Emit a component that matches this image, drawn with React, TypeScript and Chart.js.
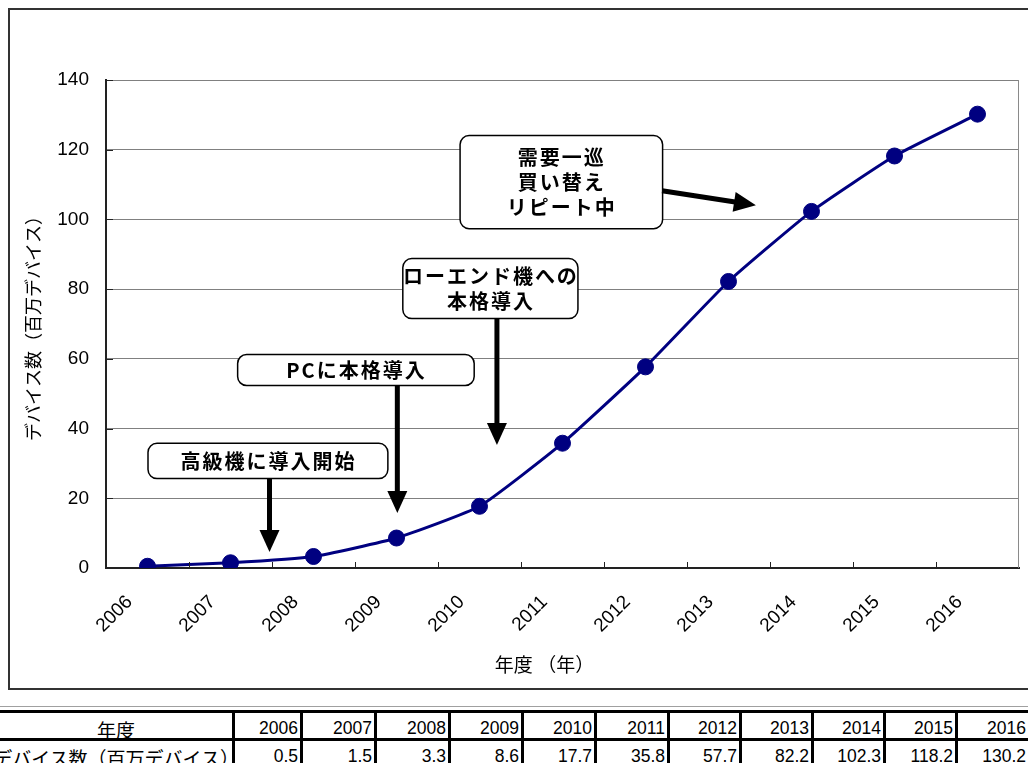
import React, { useEffect, useRef } from 'react';
import { Chart, registerables } from 'chart.js';

Chart.register(...registerables);

// 年度ごとのデバイス数（百万デバイス）
const years = ['2006', '2007', '2008', '2009', '2010', '2011', '2012', '2013', '2014', '2015', '2016'];
const devices = [0.5, 1.5, 3.3, 8.6, 17.7, 35.8, 57.7, 82.2, 102.3, 118.2, 130.2];
const yMin = 0;
const yMax = 140;
const yStep = 20;

const xTitle = '年度 （年）';
const yTitle = 'デバイス数（百万デバイス）';
const tableHeadLabel = '年度';
const tableRowLabel = 'デバイス数（百万デバイス）';

// 吹き出し: 文字列、枠 [x始, x終, y上, y下]、矢印 [x1, y1, x2, y2]（いずれも軸の単位）
const calloutLines = [
  ['高級機に導入開始'],
  ['PCに本格導入'],
  ['ローエンド機への', '本格導入'],
  ['需要一巡', '買い替え', 'リピート中'],
];
const calloutBoxes = [
  [0.0, 2.89, 35.9, 25.8],
  [1.08, 3.93, 61.4, 52.5],
  [3.07, 5.18, 88.9, 71.7],
  [3.76, 6.2, 124.2, 97.5],
];
const calloutArrows = [
  [1.47, 25.8, 1.47, 4.6],
  [3.01, 52.5, 3.01, 15.8],
  [4.21, 71.7, 4.21, 35.3],
  [6.2, 108.2, 7.33, 104.1],
];

// 表の列の右端（px）
const colEdges = [235, 303, 377, 451, 524, 597, 670, 742, 814, 886, 958, 1031];

const JP = '"Noto Sans CJK JP", sans-serif';
const NUM = '"Liberation Sans", "Noto Sans CJK JP", sans-serif';

function drawArrow(ctx: CanvasRenderingContext2D, x1: number, y1: number, x2: number, y2: number) {
  const ang = Math.atan2(y2 - y1, x2 - x1);
  const head = 22;
  const half = 10;
  const c = Math.cos(ang);
  const s = Math.sin(ang);
  const bx = x2 - head * c;
  const by = y2 - head * s;
  ctx.lineWidth = 5;
  ctx.beginPath();
  ctx.moveTo(x1, y1);
  ctx.lineTo(bx + c, by + s);
  ctx.stroke();
  ctx.beginPath();
  ctx.moveTo(x2, y2);
  ctx.lineTo(bx + half * s, by - half * c);
  ctx.lineTo(bx - half * s, by + half * c);
  ctx.closePath();
  ctx.fill();
}

const overlayPlugin = {
  id: 'overlay',
  afterDraw(chart: any) {
    const { ctx, chartArea } = chart;
    const x = chart.scales.x;
    const y = chart.scales.y;
    ctx.save();

    // plot frame on the right
    ctx.strokeStyle = '#8a8a8a';
    ctx.lineWidth = 1;
    ctx.beginPath();
    ctx.moveTo(chartArea.right - 0.5, chartArea.top);
    ctx.lineTo(chartArea.right - 0.5, chartArea.bottom);
    ctx.stroke();

    // inner tick marks
    ctx.strokeStyle = '#222';
    ctx.lineWidth = 1;
    for (let i = 0; i < years.length - 1; i++) {
      const px = Math.round(x.getPixelForValue(i + 0.5)) + 0.5;
      ctx.beginPath();
      ctx.moveTo(px, chartArea.bottom);
      ctx.lineTo(px, chartArea.bottom - 6);
      ctx.stroke();
    }
    for (let v = yMin; v <= yMax; v += yStep) {
      const py = Math.round(y.getPixelForValue(v)) + 0.5;
      ctx.beginPath();
      ctx.moveTo(chartArea.left, py);
      ctx.lineTo(chartArea.left + 7, py);
      ctx.stroke();
    }

    // x axis title
    ctx.fillStyle = '#000';
    ctx.font = `19px ${JP}`;
    ctx.textAlign = 'center';
    ctx.textBaseline = 'middle';
    ctx.fillText(xTitle, (chartArea.left + chartArea.right) / 2 - 18, 665);

    // callout boxes
    calloutBoxes.forEach((b, k) => {
      const x0 = x.getPixelForValue(b[0]);
      const x1 = x.getPixelForValue(b[1]);
      const y0 = y.getPixelForValue(b[2]);
      const y1 = y.getPixelForValue(b[3]);
      ctx.beginPath();
      ctx.roundRect(x0 + 0.5, y0 + 0.5, x1 - x0, y1 - y0, 9);
      ctx.fillStyle = '#fff';
      ctx.fill();
      ctx.lineWidth = 1.5;
      ctx.strokeStyle = '#000';
      ctx.stroke();

      const lines = calloutLines[k];
      ctx.fillStyle = '#000';
      ctx.font = `bold 20px ${JP}`;
      (ctx as any).letterSpacing = '2px';
      ctx.textAlign = 'center';
      ctx.textBaseline = 'middle';
      const cx = (x0 + x1) / 2 + 1;
      const cy = (y0 + y1) / 2;
      const lh = 25;
      lines.forEach((t, j) => {
        ctx.fillText(t, cx, cy + (j - (lines.length - 1) / 2) * lh + 1);
      });
      (ctx as any).letterSpacing = '0px';
    });

    // arrows
    ctx.fillStyle = '#000';
    ctx.strokeStyle = '#000';
    calloutArrows.forEach((a) => {
      drawArrow(
        ctx,
        x.getPixelForValue(a[0]),
        y.getPixelForValue(a[1]),
        x.getPixelForValue(a[2]),
        y.getPixelForValue(a[3])
      );
    });

    ctx.restore();
  },
};

function DeviceChart() {
  const ref = useRef<HTMLCanvasElement>(null);
  useEffect(() => {
    if (!ref.current) return;
    const chart = new Chart(ref.current, {
      type: 'line',
      data: {
        labels: years,
        datasets: [
          {
            data: devices,
            borderColor: '#000080',
            backgroundColor: '#000080',
            borderWidth: 3,
            pointRadius: 8,
            pointBorderWidth: 1,
            pointBackgroundColor: '#000080',
            pointBorderColor: '#000080',
            tension: 0.15,
          },
        ],
      },
      options: {
        responsive: false,
        animation: false,
        devicePixelRatio: 1,
        layout: { padding: { left: 10, top: 80, right: 1, bottom: 0 } },
        plugins: { legend: { display: false }, tooltip: { enabled: false } },
        scales: {
          x: {
            offset: true,
            grid: { display: false, drawTicks: false },
            border: { color: '#222', width: 2 },
            ticks: {
              color: '#000',
              font: { family: NUM, size: 19 },
              minRotation: 45,
              maxRotation: 45,
              autoSkip: false,
              labelOffset: -18,
              padding: 23,
            },
            afterFit: (s: any) => {
              s.height = 122;
            },
          },
          y: {
            min: yMin,
            max: yMax,
            ticks: { stepSize: yStep, color: '#000', font: { family: NUM, size: 19 }, padding: 17 },
            grid: { color: '#808080', drawTicks: false },
            border: { color: '#222', width: 2 },
            title: {
              display: true,
              text: yTitle,
              color: '#000',
              font: { family: JP, size: 18 },
              padding: { top: 12, bottom: 0 },
            },
            afterFit: (s: any) => {
              s.width = 96;
            },
          },
        },
      },
      plugins: [overlayPlugin],
    });
    return () => chart.destroy();
  }, []);
  return (
    <canvas ref={ref} width={1028} height={690} style={{ position: 'absolute', left: 0, top: 0 }} />
  );
}

function DataTable() {
  const rowTops = [713, 741];
  const rowH = 28;
  const cells: React.ReactNode[] = [];
  const cellBase: React.CSSProperties = {
    position: 'absolute',
    boxSizing: 'border-box',
    height: rowH,
    borderRight: '3px solid #000',
    borderBottom: '3px solid #000',
    overflow: 'visible',
    whiteSpace: 'nowrap',
    lineHeight: '25px',
    color: '#000',
  };
  // row labels
  cells.push(
    <div key="h0" style={{ ...cellBase, left: 0, top: rowTops[0], width: colEdges[0], textAlign: 'center', font: `19px ${JP}` }}>
      <span style={{ position: 'relative', top: 3 }}>{tableHeadLabel}</span>
    </div>
  );
  cells.push(
    <div key="h1" style={{ ...cellBase, left: -20, top: rowTops[1], width: colEdges[0] + 20, textAlign: 'right', paddingRight: 2, font: `19px ${JP}` }}>
      <span style={{ position: 'relative', top: 3, left: 9 }}>{tableRowLabel}</span>
    </div>
  );
  years.forEach((yr, i) => {
    const left = colEdges[i];
    const width = colEdges[i + 1] - colEdges[i];
    cells.push(
      <div key={`y${i}`} style={{ ...cellBase, left, top: rowTops[0], width, textAlign: 'right', paddingRight: 2, font: `17.5px ${NUM}` }}>
        <span style={{ position: 'relative', top: 5 }}>{yr}</span>
      </div>
    );
    cells.push(
      <div key={`v${i}`} style={{ ...cellBase, left, top: rowTops[1], width, textAlign: 'right', paddingRight: 2, font: `17.5px ${NUM}` }}>
        <span style={{ position: 'relative', top: 5 }}>{devices[i].toFixed(1)}</span>
      </div>
    );
  });
  return (
    <>
      <div style={{ position: 'absolute', left: 0, top: 706, width: 1040, height: 1, background: '#a0a0a0' }} />
      <div style={{ position: 'absolute', left: 0, top: 710, width: 1040, height: 3, background: '#000' }} />
      {cells}
    </>
  );
}

export default function App() {
  return (
    <div style={{ position: 'fixed', inset: 0, overflow: 'hidden', background: '#fff' }}>
      <div
        style={{
          position: 'absolute',
          left: 8,
          top: 8,
          width: 1100,
          height: 682,
          boxSizing: 'border-box',
          border: '2px solid #333',
        }}
      />
      <DeviceChart />
      <DataTable />
    </div>
  );
}
